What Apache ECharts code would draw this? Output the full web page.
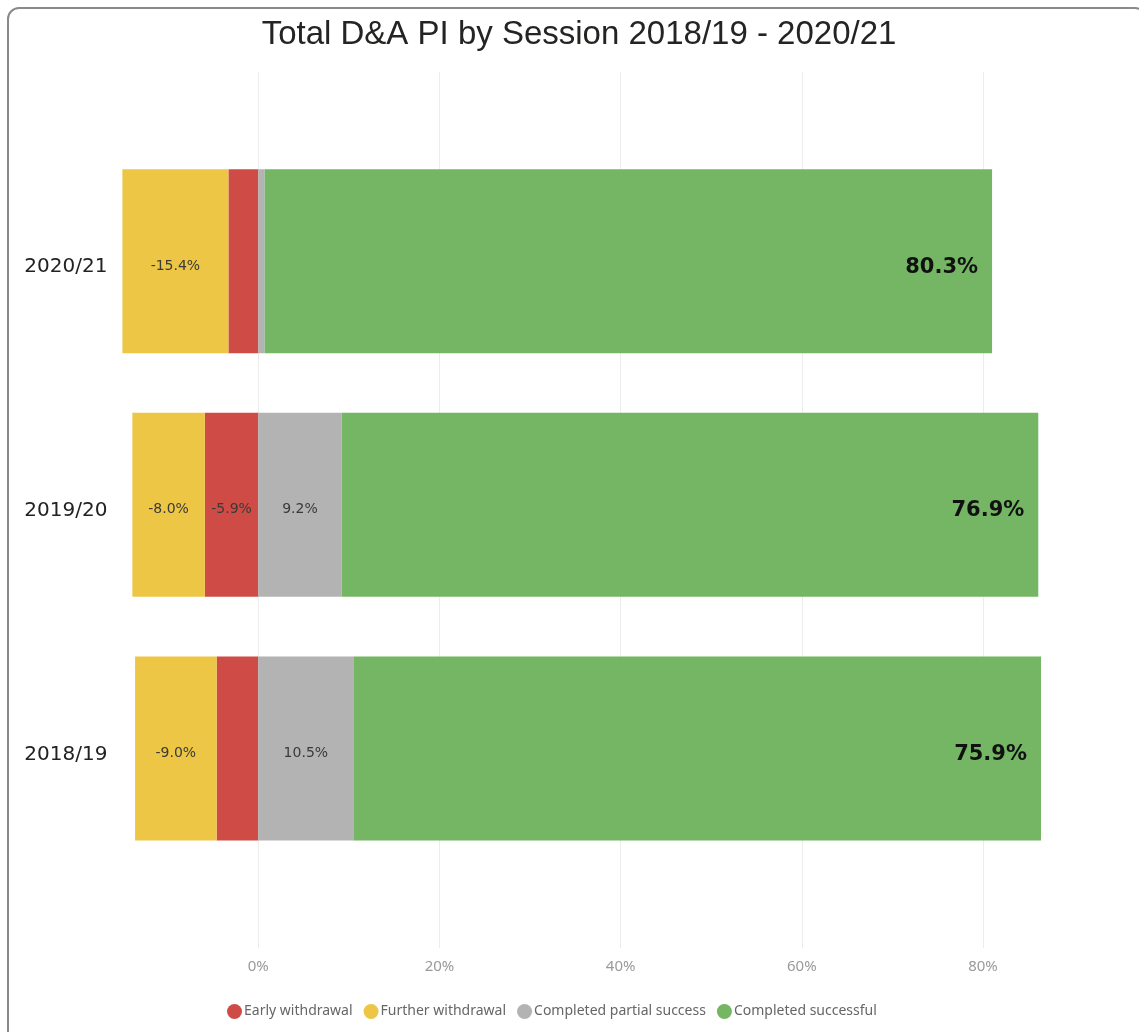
<!DOCTYPE html>
<html>
<head>
<meta charset="utf-8">
<script src="https://cdn.jsdelivr.net/npm/echarts@6/dist/echarts.min.js"></script>
<style>
  html, body { margin: 0; padding: 0; background: #fff; }
  #chart { position: absolute; left: 0; top: 0; width: 1139px; height: 1032px; }
  #frame { position: absolute; left: 7px; top: 7px; width: 1140px; height: 1040px;
           border: 2px solid #8a8a8a; border-radius: 12px; box-sizing: border-box; pointer-events: none; }
</style>
</head>
<body>
<div id="chart"></div>
<div id="frame"></div>
<script>
const titleText = 'Total D&A PI by Session 2018/19 - 2020/21';
const categories = ['2018/19', '2019/20', '2020/21'];
const seriesNames = ['Early withdrawal', 'Further withdrawal', 'Completed partial success', 'Completed successful'];
const earlyWithdrawal = [-4.6, -5.9, -3.3];
const furtherWithdrawal = [-9.0, -8.0, -15.4];
const partialSuccess = [10.5, 9.2, 0.7];
const successful = [75.9, 76.9, 80.3];
const xMin = -15;
const xMax = 86.4;

const colors = ['#CF4C46', '#ECC644', '#B3B3B3', '#74B663'];

const smallLabel = {
  show: true,
  position: 'inside',
  offset: [0, 5],
  fontFamily: 'DejaVu Sans',
  fontSize: 14,
  color: '#3a3a3a',
  formatter: p => Math.abs(p.value) >= 5 ? p.value.toFixed(1) + '%' : ''
};

const chart = echarts.init(document.getElementById('chart'), null, { renderer: 'canvas' });
const LEFT = 122.4, RIGHT = 98;

chart.setOption({
  animation: false,
  backgroundColor: 'transparent',
  color: colors,
  title: {
    text: titleText,
    left: 574,
    top: 13,
    textAlign: 'center',
    textStyle: { fontFamily: 'Liberation Sans', fontSize: 33, fontWeight: 'normal', color: '#252423' }
  },
  legend: {
    left: 222,
    top: 999,
    icon: 'circle',
    itemWidth: 15,
    itemHeight: 15,
    itemGap: 11,
    textStyle: { fontFamily: 'Noto Sans', fontSize: 14, color: '#666', padding: [0, 0, 0, -3] },
    data: seriesNames
  },
  grid: [
    { left: LEFT, right: RIGHT, top: 139.5, height: 730.7, containLabel: false },
    { left: LEFT, right: RIGHT, top: 72, bottom: 84, containLabel: false }
  ],
  xAxis: [
    { type: 'value', gridIndex: 0, min: xMin, max: xMax, show: false },
    {
      type: 'value', gridIndex: 1, min: xMin, max: xMax, splitNumber: 5,
      axisLine: { show: false }, axisTick: { show: false },
      splitLine: { show: true, showMinLine: false, showMaxLine: false, lineStyle: { color: '#ececec', width: 1 } },
      axisLabel: {
        margin: 11,
        fontFamily: 'Noto Sans', fontSize: 15, color: '#9a9a9a',
        showMinLabel: false, showMaxLabel: false,
        formatter: v => (Math.abs(v % 20) < 1e-9) ? v + '%' : ''
      }
    }
  ],
  yAxis: [
    {
      type: 'category', gridIndex: 0, data: categories,
      axisLine: { show: false }, axisTick: { show: false }, splitLine: { show: false },
      axisLabel: { margin: 15, verticalAlign: 'top', lineHeight: 12, fontFamily: 'DejaVu Sans', fontSize: 20, color: '#222' }
    },
    { type: 'value', gridIndex: 1, show: false }
  ],
  series: [
    { name: seriesNames[0], type: 'bar', stack: 'total', xAxisIndex: 0, yAxisIndex: 0,
      barWidth: 184, data: earlyWithdrawal, label: smallLabel },
    { name: seriesNames[1], type: 'bar', stack: 'total', xAxisIndex: 0, yAxisIndex: 0,
      barWidth: 184, data: furtherWithdrawal, label: smallLabel },
    { name: seriesNames[2], type: 'bar', stack: 'total', xAxisIndex: 0, yAxisIndex: 0,
      barWidth: 184, data: partialSuccess, label: smallLabel },
    { name: seriesNames[3], type: 'bar', stack: 'total', xAxisIndex: 0, yAxisIndex: 0,
      barWidth: 184, data: successful,
      label: {
        show: true, position: 'insideRight', distance: 14, offset: [0, 6],
        fontFamily: 'DejaVu Sans', fontWeight: 'bold', fontSize: 21, color: '#111',
        formatter: p => p.value.toFixed(1) + '%'
      }
    }
  ]
});
</script>
</body>
</html>
